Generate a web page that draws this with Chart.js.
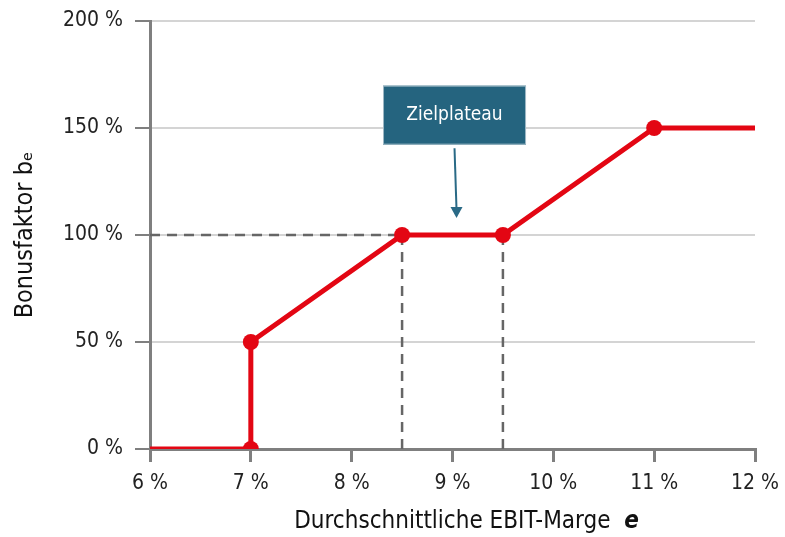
<!DOCTYPE html>
<html>
<head>
<meta charset="utf-8">
<script src="https://cdn.jsdelivr.net/npm/chart.js@4"></script>
<style>
  html, body { margin: 0; padding: 0; background: #fff; }
  #wrap { width: 785px; height: 537px; }
</style>
</head>
<body>
<div id="wrap"><canvas id="chartBonus" width="785" height="537"></canvas></div>
<script>
// Bonuskurve: EBIT-Marge (%) -> Bonusfaktor (%)
var margeWerte = [6, 7, 7, 8.5, 9.5, 11, 12];
var bonusWerte = [0, 0, 50, 100, 100, 150, 150];

// Hilfslinien (gestrichelt)
var hilfsHorizX = [6, 8.5];
var hilfsHorizY = [100, 100];
var hilfsLinks = [8.5, 8.5];
var hilfsRechts = [9.5, 9.5];
var hilfsVertY = [0, 100];

// Achsen
var xTicks = [6, 7, 8, 9, 10, 11, 12];
var yTicks = [0, 50, 100, 150, 200];
var xTitel = 'Durchschnittliche EBIT-Marge';
var xTitelVar = 'e';

// Annotation
var zielText = 'Zielplateau';
var zielPos = { x: 9.02, y: 156 };
var pfeilVon = 140.5;
var pfeilBis = 108;

var schrift = "'DejaVu Sans Condensed', 'Liberation Sans Narrow', 'Noto Sans', sans-serif";
var rot = '#e30613';
var grauDunkel = '#7f7f7f';

function punkte(xs, ys) {
    return xs.map(function(x, i) { return { x: x, y: ys[i] }; });
}

function hilfslinie(xs, ys) {
    return {
        data: punkte(xs, ys),
        borderColor: '#666666',
        borderWidth: 2.5,
        borderDash: [10, 7],
        pointRadius: 0,
        fill: false,
        order: 2
    };
}

// Plugin fuer Kasten, Pfeil und x-Titel
var zielPlugin = {
    id: 'zielPlugin',
    afterDatasetsDraw: function(chart) {
        var ctx = chart.ctx;
        var sx = chart.scales.x, sy = chart.scales.y;
        var cx = sx.getPixelForValue(zielPos.x);
        var cy = sy.getPixelForValue(zielPos.y);
        var w = 143, h = 59;
        ctx.save();
        ctx.fillStyle = '#25647f';
        ctx.fillRect(cx - w / 2, cy - h / 2, w, h);
        ctx.strokeStyle = '#9fb9c6';
        ctx.lineWidth = 1;
        ctx.strokeRect(cx - w / 2 + 0.5, cy - h / 2 + 0.5, w - 1, h - 1);
        ctx.fillStyle = '#ffffff';
        ctx.font = "19px " + schrift;
        ctx.textAlign = 'center';
        ctx.textBaseline = 'middle';
        ctx.fillText(zielText, cx, cy);

        // Pfeil
        var y1 = sy.getPixelForValue(pfeilVon);
        var y2 = sy.getPixelForValue(pfeilBis);
        var x1 = cx, x2 = cx + 2;
        ctx.strokeStyle = '#2a6a86';
        ctx.fillStyle = '#2a6a86';
        ctx.lineWidth = 2;
        ctx.beginPath();
        ctx.moveTo(x1, y1);
        ctx.lineTo(x2, y2 - 8);
        ctx.stroke();
        ctx.beginPath();
        ctx.moveTo(x2 - 6, y2 - 11);
        ctx.lineTo(x2 + 6, y2 - 11);
        ctx.lineTo(x2, y2);
        ctx.closePath();
        ctx.fill();

        // x-Titel mit kursivem e
        var f1 = "24px " + schrift;
        var f2 = "italic bold 24px " + schrift;
        ctx.font = f1;
        var w1 = ctx.measureText(xTitel + '  ').width;
        ctx.font = f2;
        var w2 = ctx.measureText(xTitelVar).width;
        var mitte = (sx.left + sx.right) / 2 + 14;
        var start = mitte - (w1 + w2) / 2;
        var ty = 522;
        ctx.fillStyle = '#111';
        ctx.textAlign = 'left';
        ctx.font = f1;
        ctx.fillText(xTitel + '  ', start, ty);
        ctx.font = f2;
        ctx.fillText(xTitelVar, start + w1, ty);
        ctx.restore();
    }
};

var ctx1 = document.getElementById('chartBonus').getContext('2d');
new Chart(ctx1, {
    type: 'line',
    data: {
        datasets: [
            {
                data: punkte(margeWerte, bonusWerte),
                borderColor: rot,
                backgroundColor: rot,
                borderWidth: 5,
                pointRadius: function(c) {
                    return (c.dataIndex === 0 || c.dataIndex === margeWerte.length - 1) ? 0 : 8;
                },
                pointBackgroundColor: rot,
                pointBorderWidth: 0,
                fill: false,
                order: 1
            },
            hilfslinie(hilfsHorizX, hilfsHorizY),
            hilfslinie(hilfsLinks, hilfsVertY),
            hilfslinie(hilfsRechts, hilfsVertY)
        ]
    },
    options: {
        responsive: false,
        animation: false,
        events: [],
        layout: { padding: { left: 0, right: 30, top: 21, bottom: 0 } },
        plugins: {
            legend: { display: false },
            tooltip: { enabled: false }
        },
        scales: {
            x: {
                type: 'linear',
                min: 6,
                max: 12,
                afterBuildTicks: function(s) { s.ticks = xTicks.map(function(v) { return { value: v }; }); },
                afterFit: function(s) { s.height = 88; s.paddingLeft = 0; s.paddingRight = 0; },
                grid: {
                    drawOnChartArea: false,
                    color: grauDunkel,
                    tickColor: grauDunkel,
                    tickLength: 13,
                    lineWidth: 3
                },
                border: { color: grauDunkel, width: 3 },
                ticks: {
                    padding: 9,
                    color: '#222',
                    font: { family: schrift, size: 21 },
                    callback: function(v) { return v + ' %'; }
                },
                title: { display: false }
            },
            y: {
                min: 0,
                max: 200,
                afterBuildTicks: function(s) { s.ticks = yTicks.map(function(v) { return { value: v }; }); },
                afterFit: function(s) { s.width = 150; s.paddingTop = 0; s.paddingBottom = 0; },
                grid: {
                    color: '#d4d4d4',
                    lineWidth: 2,
                    tickColor: grauDunkel,
                    tickLength: 15
                },
                border: { color: grauDunkel, width: 3 },
                ticks: {
                    padding: 12,
                    color: '#222',
                    font: { family: schrift, size: 21 },
                    callback: function(v) { return v + ' %'; }
                },
                title: {
                    display: true,
                    text: 'Bonusfaktor b\u2091',
                    color: '#111',
                    font: { family: schrift, size: 25 },
                    padding: { top: 10, bottom: 0 }
                }
            }
        }
    },
    plugins: [zielPlugin]
});
</script>
</body>
</html>
